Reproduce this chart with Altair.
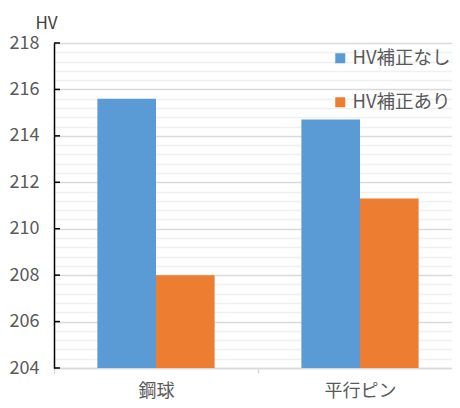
import altair as alt
import pandas as pd

categories = ["鋼球", "平行ピン"]
series = ["HV補正なし", "HV補正あり"]
hv_uncorrected = [215.6, 214.7]
hv_corrected = [208.0, 211.3]
colors = ["#5B9BD5", "#ED7D31"]
y_domain = [204, 218]
major_ticks = [204, 206, 208, 210, 212, 214, 216, 218]
minor_step = 0.4
minor_ticks = [round(y_domain[0] + minor_step * i, 1) for i in range(36)]

FONT = "Noto Sans CJK JP"
TXT = "#595959"

rows = []
for s, vals in zip(series, [hv_uncorrected, hv_corrected]):
    for c, v in zip(categories, vals):
        rows.append({"category": c, "series": s, "hv": v})
df = pd.DataFrame(rows)

is_major = "abs(datum.value - round(datum.value / 2) * 2) < 0.01"

y_scale = alt.Scale(domain=y_domain, nice=False, zero=False)
y_axis = alt.Axis(values=minor_ticks, grid=True,
                  gridColor={"condition": {"test": is_major, "value": "#d9d9d9"}, "value": "#f0f0f0"},
                  gridWidth=1.5, ticks=False, domain=True, domainColor="black",
                  domainWidth=1.5, labelOverlap=False,
                  labelExpr=f"({is_major}) ? format(datum.value, 'd') : ''",
                  labelFontSize=18, labelColor=TXT, labelFont=FONT, labelPadding=15,
                  title="HV", titleAngle=0, titleX=-8, titleY=-15,
                  titleAlign="center", titleBaseline="alphabetic",
                  titleFontSize=17, titleFontWeight="normal",
                  titleColor="#404040", titleFont=FONT)

bars = alt.Chart(df).mark_bar(clip=True).encode(
    x=alt.X("category:N", sort=categories,
            scale=alt.Scale(paddingInner=0, paddingOuter=0),
            axis=alt.Axis(title=None, domainColor="#d9d9d9", domainWidth=1.5,
                          tickColor="#d9d9d9", tickWidth=1.5, tickBand="extent", tickSize=5,
                          labelPadding=9, labelAngle=0, labelFontSize=18,
                          labelColor=TXT, labelFont=FONT, grid=False)),
    xOffset=alt.XOffset("series:N", sort=series,
                        scale=alt.Scale(paddingOuter=0.74, paddingInner=0)),
    y=alt.Y("hv:Q", scale=y_scale, axis=y_axis),
    color=alt.Color("series:N", sort=series,
                    scale=alt.Scale(domain=series, range=colors),
                    legend=alt.Legend(title=None, orient="none", legendX=277, legendY=6,
                                      symbolType="square", symbolSize=100, symbolStrokeWidth=0,
                                      labelFontSize=18.5, labelColor=TXT, labelFont=FONT,
                                      rowPadding=25, labelOffset=3, padding=0)),
)

tick_df = pd.DataFrame({"hv": major_ticks})
ticks = alt.Chart(tick_df).mark_rule(color="black", strokeWidth=1.5).encode(
    y=alt.Y("hv:Q", scale=y_scale, axis=y_axis),
    x=alt.value(0),
    x2=alt.value(6),
)

chart = alt.layer(bars, ticks).properties(
    width=408, height=325,
    autosize=alt.AutoSizeParams(type="none"),
    padding={"left": 46, "top": 35, "right": -10, "bottom": 32},
).configure_view(stroke=None)

chart.save("out.html", embed_options={"renderer": "svg", "actions": False})
